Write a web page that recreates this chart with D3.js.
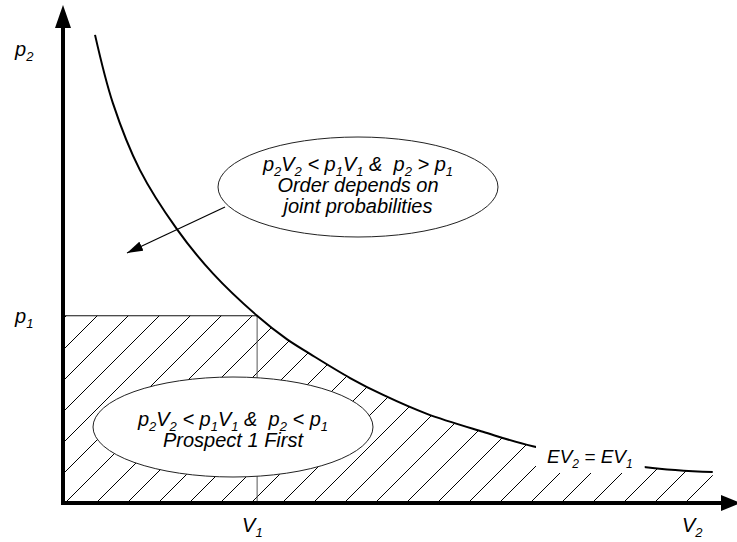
<!DOCTYPE html>
<html>
<head>
<meta charset="utf-8">
<script src="https://cdn.jsdelivr.net/npm/d3@7"></script>
<style>
  html, body { margin: 0; padding: 0; background: #fff; }
  text { font-family: "Liberation Sans", Arial, sans-serif; font-style: italic; white-space: pre; }
</style>
</head>
<body>
<svg id="chart"></svg>
<script>
var W = 737, H = 542;

// iso-EV curve EV2 = EV1 (V2, p2 in 0..100 units)
var curveV2 = [4.75, 7.4, 11.4, 16.9, 22.3, 28.8, 33.2, 36.7, 42.6, 47.5, 54.0, 62.3, 69.7, 86.5, 96.4];
var curveP2 = [94.0, 80.3, 66.9, 55.0, 46.0, 37.6, 32.9, 29.9, 25.1, 21.7, 17.9, 14.3, 11.4, 7.2, 6.2];
// the reference prospect
var V1 = 28.8, p1 = 37.6;
// labels
var axisLabels = { x: "V_2", y: "p_2", xRef: "V_1", yRef: "p_1" };
var upperNote = ["p_2V_2 < p_1V_1 &  p_2 > p_1", "Order depends on", "joint probabilities"];
var lowerNote = ["p_2V_2 < p_1V_1 &  p_2 < p_1", "Prospect 1 First"];
var curveLabel = "EV_2 = EV_1";

var pts = curveV2.map(function (v, i) { return { v: v, p: curveP2[i] }; });

var x = d3.scaleLinear().domain([0, 100]).range([63, 737]);
var y = d3.scaleLinear().domain([0, 100]).range([503, 5]);
var smooth = d3.curveCatmullRom.alpha(0.5);

var svg = d3.select("#chart").attr("width", W).attr("height", H);
var defs = svg.append("defs");

// text with "_x" subscripts
function rich(sel, str, size) {
    var segs = str.split(/(_.)/).filter(function (s) { return s.length; });
    var shifted = false;
    sel.attr("font-size", size);
    segs.forEach(function (s) {
        var ts = sel.append("tspan");
        if (s[0] === "_") {
            ts.text(s[1]).attr("font-size", Math.round(size * 0.65)).attr("dy", shifted ? 0 : 5);
            shifted = true;
        } else {
            ts.text(s).attr("dy", shifted ? -5 : 0);
            shifted = false;
        }
    });
    return sel;
}

// clip: region under the curve
var under = defs.append("clipPath").attr("id", "under");
under.append("path")
    .attr("d", d3.area()
        .x(function (d) { return x(d.v); })
        .y0(y(0))
        .y1(function (d) { return y(d.p); })
        .curve(smooth)(pts));
under.append("rect")
    .attr("x", x(0) - 5).attr("y", 0)
    .attr("width", x(curveV2[0]) - x(0) + 6).attr("height", y(0));

// clip: below p1
defs.append("clipPath").attr("id", "belowP1")
    .append("rect")
    .attr("x", x(0)).attr("y", y(p1))
    .attr("width", W).attr("height", y(0) - y(p1));

// hatching
var hatch = svg.append("g").attr("clip-path", "url(#belowP1)")
    .append("g").attr("clip-path", "url(#under)");
hatch.selectAll("line").data(d3.range(-11, 16)).join("line")
    .attr("x1", function (k) { return 220 + 31 * k; })
    .attr("y1", y(0))
    .attr("x2", function (k) { return 220 + 31 * k + 300; })
    .attr("y2", y(0) - 300)
    .attr("stroke", "#000")
    .attr("stroke-width", 1);

// p1 / V1 guide lines
svg.append("line")
    .attr("x1", x(0)).attr("x2", x(V1))
    .attr("y1", y(p1)).attr("y2", y(p1))
    .attr("stroke", "#111").attr("stroke-width", 1);
svg.append("line")
    .attr("x1", x(V1)).attr("x2", x(V1))
    .attr("y1", y(p1)).attr("y2", y(0))
    .attr("stroke", "#555").attr("stroke-width", 1);

// the curve
svg.append("path")
    .attr("d", d3.line()
        .x(function (d) { return x(d.v); })
        .y(function (d) { return y(d.p); })
        .curve(smooth)(pts))
    .attr("fill", "none")
    .attr("stroke", "#000")
    .attr("stroke-width", 2);

// curve label with white background
var lab = svg.append("g");
var labBg = lab.append("rect").attr("fill", "#fff");
var labText = rich(lab.append("text").attr("x", 547).attr("y", 463), curveLabel, 19);
var bb = labText.node().getBBox();
labBg.attr("x", bb.x - 11).attr("y", bb.y - 8)
    .attr("width", bb.width + 23).attr("height", bb.height + 10);

// notes
function note(cx, cy, lines, baselines) {
    var g = svg.append("g");
    g.append("ellipse")
        .attr("cx", cx).attr("cy", cy)
        .attr("rx", 140).attr("ry", 50)
        .attr("fill", "#fff")
        .attr("stroke", "#222")
        .attr("stroke-width", 1);
    lines.forEach(function (ln, i) {
        rich(g.append("text").attr("x", cx).attr("y", baselines[i])
            .attr("text-anchor", "middle"), ln, 20);
    });
}
note(358, 187, upperNote, [171, 192, 213]);
note(233, 427, lowerNote, [426, 447]);

// pointer arrow from the upper note
defs.append("marker")
    .attr("id", "tip")
    .attr("viewBox", "0 0 16 10")
    .attr("refX", 16).attr("refY", 5)
    .attr("markerWidth", 16).attr("markerHeight", 10)
    .attr("markerUnits", "userSpaceOnUse")
    .attr("orient", "auto")
    .append("path").attr("d", "M0,0L16,5L0,10Z").attr("fill", "#000");
svg.append("line")
    .attr("x1", 225).attr("y1", 207)
    .attr("x2", 127).attr("y2", 253)
    .attr("stroke", "#000").attr("stroke-width", 1.2)
    .attr("marker-end", "url(#tip)");

// axes
svg.append("line")
    .attr("x1", x(0)).attr("x2", x(0))
    .attr("y1", y(0) + 2).attr("y2", 27)
    .attr("stroke", "#000").attr("stroke-width", 4);
svg.append("path")
    .attr("d", "M" + x(0) + ",5L" + (x(0) - 8) + ",28L" + (x(0) + 8) + ",28Z")
    .attr("fill", "#000");
svg.append("line")
    .attr("x1", x(0) - 2).attr("x2", 722)
    .attr("y1", y(0)).attr("y2", y(0))
    .attr("stroke", "#000").attr("stroke-width", 4);
svg.append("path")
    .attr("d", "M741," + y(0) + "L721," + (y(0) - 8) + "L721," + (y(0) + 8) + "Z")
    .attr("fill", "#000");

// axis labels
rich(svg.append("text").attr("x", 15).attr("y", 56), axisLabels.y, 20);
rich(svg.append("text").attr("x", 15).attr("y", y(p1) + 7), axisLabels.yRef, 20);
rich(svg.append("text").attr("x", x(V1) - 15).attr("y", 532), axisLabels.xRef, 20);
rich(svg.append("text").attr("x", 682).attr("y", 532), axisLabels.x, 20);
</script>
</body>
</html>
